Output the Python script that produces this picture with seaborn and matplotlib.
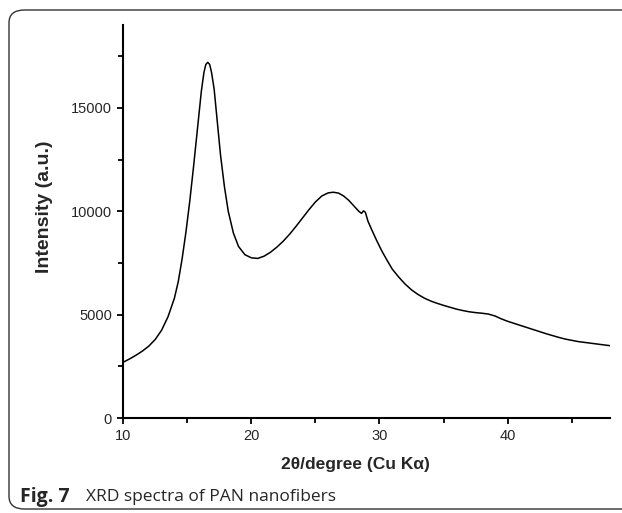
import matplotlib
matplotlib.use("Agg")
import matplotlib.pyplot as plt
import seaborn as sns
import pandas as pd
from matplotlib.patches import FancyBboxPatch
from matplotlib.ticker import MultipleLocator

# 2theta (deg) and intensity
two_theta = [10.0, 10.5, 11.0, 11.5, 12.0, 12.5, 13.0, 13.5, 14.0, 14.3,
             14.6, 14.9, 15.2, 15.5, 15.8, 16.1, 16.3, 16.45, 16.6, 16.75,
             16.9, 17.1, 17.35, 17.6, 17.9, 18.2, 18.6, 19.0, 19.5, 20.0,
             20.5, 21.0, 21.5, 22.0, 22.5, 23.0, 23.5, 24.0, 24.5, 25.0,
             25.5, 26.0, 26.4, 26.8, 27.2, 27.6, 28.0, 28.4, 28.6, 28.75,
             28.9, 29.1, 29.4, 29.8, 30.2, 30.6, 31.0, 31.5, 32.0, 32.5,
             33.0, 33.5, 34.0, 34.5, 35.0, 35.5, 36.0, 36.5, 37.0, 37.5,
             38.0, 38.5, 39.0, 39.5, 40.0, 40.5, 41.0, 41.5, 42.0, 42.5,
             43.0, 43.5, 44.0, 44.5, 45.0, 45.5, 46.0, 46.5, 47.0, 47.5,
             48.0]
intensity = [2700, 2860, 3040, 3240, 3480, 3800, 4250, 4900, 5800, 6600,
             7700, 9000, 10500, 12200, 14000, 15800, 16700, 17100, 17200, 17100,
             16700, 15900, 14300, 12700, 11200, 10000, 8950, 8300, 7900, 7750,
             7720, 7830, 8020, 8270, 8560, 8900, 9280, 9680, 10080, 10450,
             10740, 10890, 10920, 10880, 10740, 10530, 10260, 9990, 9900, 10020,
             9950, 9520, 9100, 8560, 8060, 7620, 7200, 6820, 6480, 6200,
             5980, 5800, 5660, 5550, 5450, 5360, 5270, 5200, 5140, 5100,
             5070, 5030, 4940, 4800, 4680, 4580, 4480, 4380, 4280, 4180,
             4080, 3990, 3900, 3820, 3760, 3700, 3660, 3620, 3580, 3540,
             3500]

df = pd.DataFrame({"two_theta": two_theta, "intensity": intensity})

sns.set_style("ticks")
plt.rcParams['font.family'] = ['Liberation Sans', 'DejaVu Sans']

fig = plt.figure(figsize=(6.22, 5.13), dpi=100)
ax = fig.add_axes([0.198, 0.185, 0.783, 0.766])

sns.lineplot(data=df, x="two_theta", y="intensity", ax=ax,
             color="black", linewidth=1.1, sort=False)

ax.set_xlim(10, 48)
ax.set_ylim(0, 19000)
ax.xaxis.set_major_locator(MultipleLocator(10))
ax.xaxis.set_minor_locator(MultipleLocator(5))
ax.yaxis.set_major_locator(MultipleLocator(5000))
ax.yaxis.set_minor_locator(MultipleLocator(2500))
ax.tick_params(which="major", length=4.5, width=1.3, labelsize=10.5, color="black")
ax.tick_params(which="minor", length=3.5, width=1.3, color="black")
ax.tick_params(axis="x", pad=3)

for s in ["top", "right"]:
    ax.spines[s].set_visible(False)
for s in ["left", "bottom"]:
    ax.spines[s].set_linewidth(1.5)
    ax.spines[s].set_color("black")

ax.set_xlabel("2\u03b8/degree (Cu K\u03b1)", fontsize=12.5, fontweight="bold")
ax.set_ylabel("Intensity (a.u.)", fontsize=14, fontweight="bold")
ax.xaxis.set_label_coords(0.476, -0.098)
ax.yaxis.set_label_coords(-0.145, 0.539)

# rounded frame around the figure panel
frame = FancyBboxPatch((9 / 622, 4 / 513), 640 / 622, 499 / 513,
                       boxstyle="round,pad=0,rounding_size=0.025",
                       transform=fig.transFigure, fill=False,
                       edgecolor="#333333", linewidth=1.0, clip_on=False)
fig.patches.append(frame)

fig.text(20 / 622, 1 - 497 / 513, "Fig. 7", fontsize=14, fontweight="bold",
         family=["Open Sans", "DejaVu Sans"], va="center", ha="left")
fig.text(86 / 622, 1 - 497 / 513, "XRD spectra of PAN nanofibers", fontsize=12.5,
         family=["Open Sans", "DejaVu Sans"], va="center", ha="left")

fig.savefig("out.png", dpi=100)
